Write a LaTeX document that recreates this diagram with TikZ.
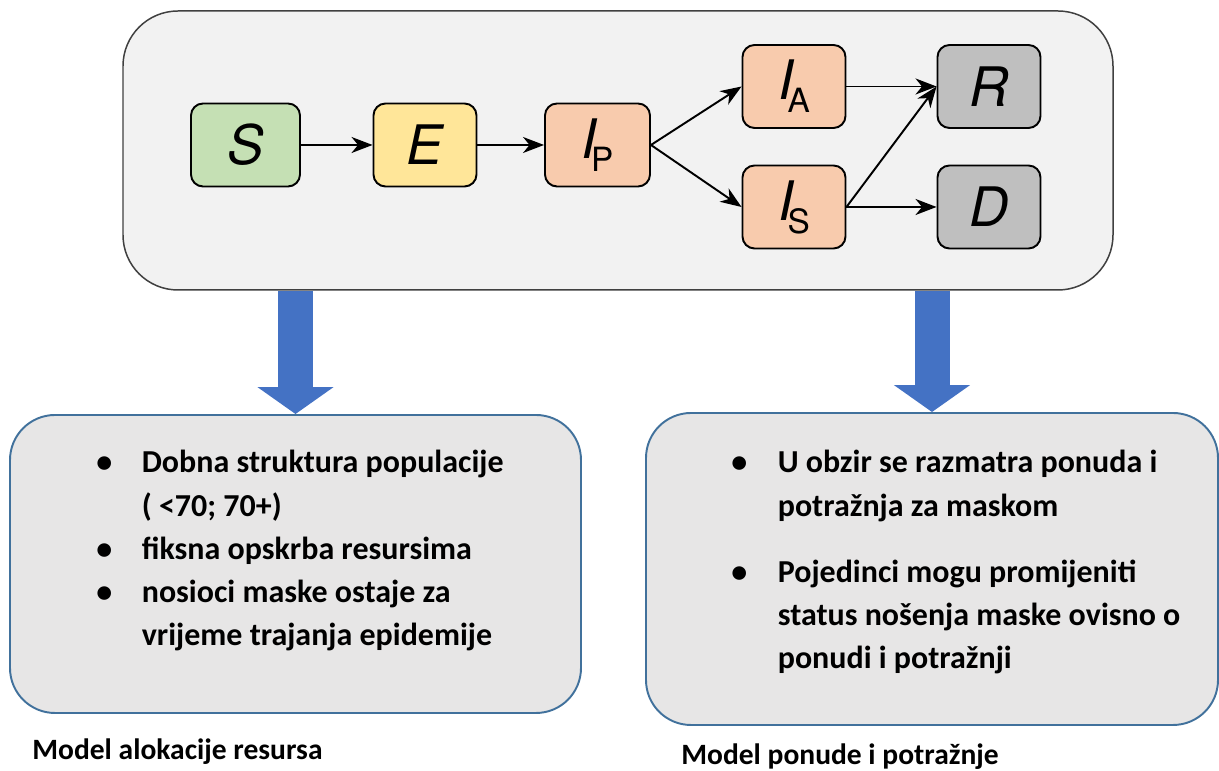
\documentclass[tikz,border=0pt]{standalone}
\usepackage{fontspec}
\setmainfont{Carlito}
\newfontfamily\compfont{TeX Gyre Heros}
\usetikzlibrary{arrows.meta}

\definecolor{framegray}{HTML}{F2F2F2}
\definecolor{listgray}{HTML}{E7E6E6}
\definecolor{listedge}{HTML}{41719C}
\definecolor{arrowblue}{HTML}{4472C4}
\definecolor{sgreen}{HTML}{C5E0B4}
\definecolor{eyellow}{HTML}{FFE699}
\definecolor{iorange}{HTML}{F8CBAD}
\definecolor{rgray}{HTML}{BFBFBF}

\newcommand{\compsub}[1]{\kern-0.1em\raisebox{-0.24em}{\upshape\fontsize{19}{19}\selectfont #1}}

\tikzset{
  comp/.style={draw=black, line width=1.1pt, rounded corners=0.24cm,
    minimum width=2.06cm, minimum height=1.66cm, inner sep=0pt,
    font=\compfont\fontsize{31}{31}\selectfont\itshape},
  flow/.style={->, line width=1.1pt},
  listbox/.style={draw=listedge, fill=listgray, line width=1.1pt, rounded corners=0.9cm},
  listtext/.style={inner sep=0pt, font=\bfseries\fontsize{18.2}{24.5}\selectfont},
  caption/.style={inner sep=0pt, font=\bfseries\fontsize{16.8}{18}\selectfont},
  bigarrow/.style={draw=arrowblue, line width=0.7cm, -{Triangle[width=1.5cm, length=0.54cm]}}
}

\begin{document}
\begin{tikzpicture}[>={Stealth[length=0.42cm, width=0.32cm, inset=0.13cm]}]

    \useasboundingbox (0,0) rectangle (24.38,15.42);

    % TOP PART

    % Frame of the compartment model
    \node[draw=black!75, fill=framegray, line width=0.85pt, rounded corners=1.1cm,
          minimum width=19.8cm, minimum height=5.58cm] (model) at (12.36,12.41) {};

    % Compartments
    \node[comp, fill=sgreen, minimum width=2.18cm] (S) at (4.91,12.52) {S};
    \node[comp, fill=eyellow] (E) at (8.5,12.52) {E};
    \node[comp, fill=iorange, minimum width=2.1cm] (IP) at (11.95,12.52) {I\compsub{P}};
    \node[comp, fill=iorange] (IA) at (15.88,13.69) {I\compsub{A}};
    \node[comp, fill=iorange] (IS) at (15.88,11.28) {I\compsub{S}};
    \node[comp, fill=rgray] (R) at (19.78,13.69) {R};
    \node[comp, fill=rgray] (D) at (19.78,11.28) {D};

    % Transitions
    \draw[flow] (S.east) -- (E.west);
    \draw[flow] (E.east) -- (IP.west);
    \draw[flow] (IP.east) -- (IA.west);
    \draw[flow] (IP.east) -- (IS.west);
    \draw[flow] (IA.east) -- (R.west);
    \draw[flow] (IS.east) -- (R.west);
    \draw[flow] (IS.east) -- (D.west);

    % BOTTOM PART

    % Boxes
    \node[listbox, minimum width=11.42cm, minimum height=5.96cm] (leftbox) at (5.91,4.14) {};
    \node[listbox, minimum width=11.44cm, minimum height=6.24cm] (rightbox) at (18.64,4.04) {};

    % Blue arrows
    \draw[bigarrow] (leftbox.north |- model.south) -- (leftbox.north);
    \draw[bigarrow] (rightbox.north |- model.south) -- (rightbox.north);

    % Lists
    \node[listtext, anchor=base west] (leftlist) at (1.92,5.96)
    {\begin{tabular}[t]{@{}p{0.91cm}@{}l@{}}
     \textbullet & Dobna struktura populacije\\
                 & ( <70; 70+)\\
     \textbullet & fiksna opskrba resursima\\
     \textbullet & nosioci maske ostaje za\\
                 & vrijeme trajanja epidemije
     \end{tabular}};

    \node[listtext, anchor=base west] (rightlist) at (14.62,5.96)
    {\begin{tabular}[t]{@{}p{0.93cm}@{}l@{}}
     \textbullet & U obzir se razmatra ponuda i\\
                 & potražnja za maskom\\[0.46cm]
     \textbullet & Pojedinci mogu promijeniti\\
                 & status nošenja maske ovisno o\\
                 & ponudi i potražnji
     \end{tabular}};

    % Captions
    \node[caption, anchor=base west] (leftcap) at (0.64,0.22) {Model alokacije resursa};
    \node[caption, anchor=base west] (rightcap) at (13.62,0.12) {Model ponude i potražnje};

\end{tikzpicture}
\end{document}
